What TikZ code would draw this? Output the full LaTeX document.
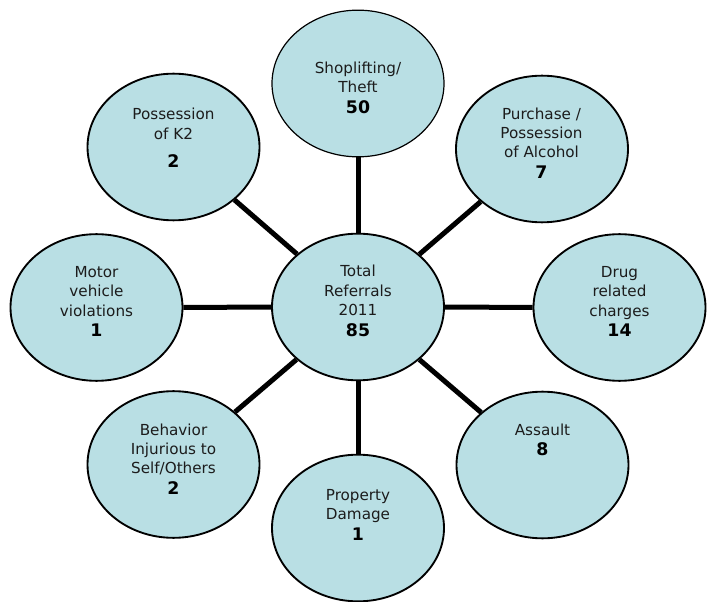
\documentclass[tikz,border=0pt]{standalone}
\usepackage{fontspec}
\setmainfont{DejaVu Sans}
\usetikzlibrary{shapes.geometric,backgrounds}
\definecolor{bubble}{RGB}{185,223,228}
\definecolor{txt}{RGB}{28,28,28}
\newcommand{\nb}[1]{\textcolor{black}{\bfseries\fontsize{13}{15}\selectfont #1}}
\begin{document}
\begin{tikzpicture}[x=0.75pt,y=-0.75pt,
  bub/.style={ellipse, draw=black, line width=1.4pt, fill=bubble, minimum width=129pt, minimum height=110pt, inner sep=0pt},
  lbl/.style={align=center, font=\fontsize{11.4}{14.5}\selectfont, text=txt, inner sep=0pt},
  link/.style={line width=3.75pt, draw=black}]
\useasboundingbox (0,0) rectangle (707,602);
% bubbles
\node[bub] (c)   at (358,307) {};
\node[bub, line width=0.9pt] (shop) at (358,83.5) {};
\node[bub] (prop) at (358,528) {};
\node[bub] (k2)   at (173.5,147) {};
\node[bub] (alc)  at (542,149) {};
\node[bub] (mot)  at (96.5,307.5) {};
\node[bub] (drug) at (619.5,307.5) {};
\node[bub] (beh)  at (173.5,464.5) {};
\node[bub] (ass)  at (542.5,465) {};
% connectors
\begin{scope}[on background layer]
\draw[link] (c) -- (shop);
\draw[link] (c) -- (prop);
\draw[link] (c) -- (k2);
\draw[link] (c) -- (alc);
\draw[link] (c) -- (mot);
\draw[link] (c) -- (drug);
\draw[link] (c) -- (beh);
\draw[link] (c) -- (ass);
\end{scope}
% labels
\node[lbl] (cT)    at (358,301) {Total\\Referrals\\2011\\[1pt]\nb{85}};
\node[lbl] (shopT) at (358,88) {Shoplifting/\\Theft\\[1pt]\nb{50}};
\node[lbl] (propT) at (358,515) {Property\\Damage\\[1pt]\nb{1}};
\node[lbl] (k2T)   at (173.5,138) {Possession\\of K2\\[7pt]\nb{2}};
\node[lbl] (alcT)  at (541.5,143) {Purchase /\\Possession\\of Alcohol\\[1pt]\nb{7}};
\node[lbl] (motT)  at (96.5,301.5) {Motor\\vehicle\\violations\\[1pt]\nb{1}};
\node[lbl] (drugT) at (619.5,301.5) {Drug\\related\\charges\\[1pt]\nb{14}};
\node[lbl] (behT)  at (173.5,459) {Behavior\\Injurious to\\Self/Others\\[1pt]\nb{2}};
\node[lbl] (assT)  at (542.5,440) {Assault\\[1pt]\nb{8}};
\end{tikzpicture}
\end{document}
